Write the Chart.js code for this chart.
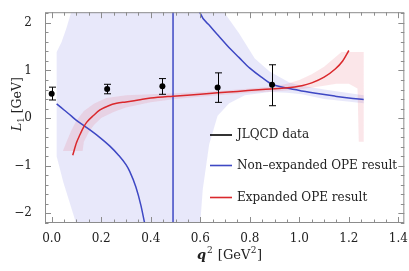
<!DOCTYPE html>
<html lang="en">
<head>
<meta charset="UTF-8">
<title>L1 vs q2</title>
<script src="https://cdn.jsdelivr.net/npm/chart.js"></script>
<style>
  body { margin: 0; background: #fff; }
  #wrap { width: 409px; height: 271px; }
</style>
</head>
<body>
<div id="wrap"><canvas id="graphique"></canvas></div>
<script>
// JLQCD lattice points (q^2, L1, lower / upper error)
const latQ  = [0.0, 0.224, 0.447, 0.67, 0.89];
const latL  = [0.51, 0.61, 0.67, 0.64, 0.70];
const latLo = [0.38, 0.51, 0.50, 0.33, 0.26];
const latHi = [0.65, 0.71, 0.83, 0.95, 1.12];

// non-expanded OPE, two branches around the pole
const poleQ = 0.49;
const nonExpLeftQ  = [0.02, 0.05, 0.08, 0.10, 0.13, 0.16, 0.195, 0.235, 0.27, 0.30, 0.315, 0.34, 0.36, 0.375, 0.385];
const nonExpLeftL  = [0.30, 0.17, 0.04, -0.05, -0.16, -0.27, -0.41, -0.59, -0.78, -0.98, -1.12, -1.45, -1.83, -2.20, -2.45];
const nonExpRightQ = [0.595, 0.60, 0.64, 0.677, 0.72, 0.757, 0.80, 0.85, 0.89, 0.95, 1.01, 1.08, 1.145, 1.20, 1.26];
const nonExpRightL = [2.30, 2.20, 1.93, 1.71, 1.46, 1.27, 1.05, 0.85, 0.71, 0.63, 0.57, 0.51, 0.46, 0.42, 0.39];

// non-expanded OPE uncertainty band (outline)
const bandBlueQ = [0.02, 0.02, 0.04, 0.06, 0.08, 0.08, 0.70, 0.70, 0.757, 0.82, 0.88, 0.96, 1.01, 1.10, 1.26,
                   1.26, 1.10, 1.01, 0.95, 0.88, 0.78, 0.717, 0.67, 0.636, 0.61, 0.60, 0.60, 0.098, 0.098, 0.047, 0.02];
const bandBlueL = [-0.80, 1.39, 1.60, 1.90, 2.25, 2.60, 2.60, 2.20, 1.78, 1.25, 0.98, 0.75, 0.68, 0.60, 0.48,
                   0.31, 0.40, 0.50, 0.53, 0.55, 0.48, 0.31, 0.05, -0.55, -1.50, -2.20, -2.60, -2.60, -2.20, -1.35, -0.80];

// expanded OPE
const expQ = [0.085, 0.10, 0.114, 0.13, 0.141, 0.17, 0.195, 0.23, 0.262, 0.30, 0.35, 0.40, 0.49, 0.60, 0.67, 0.75, 0.85, 0.94, 1.01, 1.05, 1.10, 1.145, 1.175, 1.20];
const expL = [-0.78, -0.52, -0.35, -0.18, -0.09, 0.06, 0.17, 0.26, 0.31, 0.34, 0.38, 0.42, 0.46, 0.50, 0.53, 0.56, 0.60, 0.63, 0.68, 0.74, 0.86, 1.03, 1.20, 1.42];

// expanded OPE uncertainty band (outline)
const bandRedQ = [0.045, 0.06, 0.08, 0.10, 0.13, 0.17, 0.22, 0.30, 0.40, 0.50, 0.60, 0.70, 0.80, 0.90, 0.95, 1.00, 1.05, 1.10, 1.15, 1.17, 1.26,
                  1.26, 1.24, 1.235, 1.20, 1.15, 1.10, 1.00, 0.90, 0.80, 0.70, 0.60, 0.50, 0.40, 0.30, 0.25, 0.20, 0.17, 0.15, 0.13, 0.125, 0.045];
const bandRedL = [-0.69, -0.50, -0.25, -0.05, 0.15, 0.30, 0.42, 0.48, 0.50, 0.52, 0.55, 0.58, 0.62, 0.67, 0.72, 0.80, 0.92, 1.08, 1.30, 1.39, 1.39,
                  -0.50, -0.50, 0.62, 0.72, 0.72, 0.68, 0.60, 0.56, 0.53, 0.49, 0.45, 0.40, 0.33, 0.22, 0.13, 0.00, -0.15, -0.30, -0.50, -0.69, -0.69];

const xTicks = [0.0, 0.2, 0.4, 0.6, 0.8, 1.0, 1.2, 1.4];
const yTicks = [-2, -1, 0, 1, 2];
const legendNames = ["JLQCD data", "Non\u2013expanded OPE result", "Expanded OPE result"];

const blue = "rgb(62,72,196)";
const red = "rgb(218,40,44)";
const serif = "'DejaVu Serif', serif";

const pts = (xs, ys) => xs.map((x, i) => ({ x: x, y: ys[i] }));

// frame with inward ticks, error bars, legend, axis titles
const decor = {
  id: "decor",
  afterDatasetsDraw(chart) {
    const ctx = chart.ctx;
    const xs = chart.scales.x, ys = chart.scales.y;

    // error bars
    ctx.save();
    ctx.strokeStyle = "#000";
    ctx.lineWidth = 1;
    latQ.forEach((q, i) => {
      const px = Math.round(xs.getPixelForValue(q)) + 0.5;
      const y1 = ys.getPixelForValue(latLo[i]);
      const y2 = ys.getPixelForValue(latHi[i]);
      ctx.beginPath();
      ctx.moveTo(px, y1); ctx.lineTo(px, y2);
      ctx.moveTo(px - 3.5, y1); ctx.lineTo(px + 3.5, y1);
      ctx.moveTo(px - 3.5, y2); ctx.lineTo(px + 3.5, y2);
      ctx.stroke();
    });
    ctx.restore();
  },
  afterDraw(chart) {
    const ctx = chart.ctx;
    const xs = chart.scales.x, ys = chart.scales.y;
    const a = chart.chartArea;
    ctx.save();
    ctx.strokeStyle = "#8c8c8c";
    ctx.lineWidth = 1;
    ctx.strokeRect(a.left + 0.5, a.top + 0.5, a.right - a.left - 1, a.bottom - a.top - 1);

    ctx.beginPath();
    for (let v = -0.05; v <= 1.45; v += 0.05) {
      const vv = Math.round(v * 100) / 100;
      if (vv < xs.min || vv > xs.max) continue;
      const major = Math.abs(vv * 5 - Math.round(vv * 5)) < 1e-6;
      const len = major ? 6 : 3.5;
      const px = Math.round(xs.getPixelForValue(vv)) + 0.5;
      ctx.moveTo(px, a.bottom); ctx.lineTo(px, a.bottom - len);
      ctx.moveTo(px, a.top); ctx.lineTo(px, a.top + len);
    }
    for (let v = -2.2; v <= 2.25; v += 0.2) {
      const vv = Math.round(v * 10) / 10;
      if (vv < ys.min || vv > ys.max) continue;
      const major = Math.abs(vv - Math.round(vv)) < 1e-6;
      const len = major ? 6 : 3.5;
      const py = Math.round(ys.getPixelForValue(vv)) + 0.5;
      ctx.moveTo(a.left, py); ctx.lineTo(a.left + len, py);
      ctx.moveTo(a.right, py); ctx.lineTo(a.right - len, py);
    }
    ctx.stroke();

    // legend
    const legColors = ["#000", blue, red];
    const legY = [135, 165.5, 197.5];
    ctx.font = "12px " + serif;
    ctx.textBaseline = "middle";
    ctx.fillStyle = "#222";
    legendNames.forEach((name, i) => {
      ctx.strokeStyle = legColors[i];
      ctx.lineWidth = 1.6;
      ctx.beginPath();
      ctx.moveTo(210, legY[i]); ctx.lineTo(232, legY[i]);
      ctx.stroke();
      ctx.fillText(name, 237, legY[i]);
    });

    // x title: q^2 [GeV^2]
    ctx.textBaseline = "alphabetic";
    ctx.fillStyle = "#222";
    let x = 197, y = 259;
    ctx.font = "italic bold 13px " + serif;
    ctx.fillText("q", x, y); x += ctx.measureText("q").width + 1;
    ctx.font = "9px " + serif;
    ctx.fillText("2", x, y - 6); x += ctx.measureText("2").width + 5;
    ctx.font = "13px " + serif;
    ctx.fillText("[GeV", x, y); x += ctx.measureText("[GeV").width + 0.5;
    ctx.font = "9px " + serif;
    ctx.fillText("2", x, y - 6); x += ctx.measureText("2").width + 0.5;
    ctx.font = "13px " + serif;
    ctx.fillText("]", x, y);

    // y title: L1 [GeV]
    ctx.translate(21, 131);
    ctx.rotate(-Math.PI / 2);
    x = 0;
    ctx.font = "italic 12.5px " + serif;
    ctx.fillText("L", x, 0); x += ctx.measureText("L").width;
    ctx.font = "8.5px " + serif;
    ctx.fillText("1", x, 3); x += ctx.measureText("1").width + 4;
    ctx.font = "12.5px " + serif;
    ctx.fillText("[GeV]", x, 0);
    ctx.restore();
  }
};

const lineStyle = { borderWidth: 1.5, pointRadius: 0, cubicInterpolationMode: "monotone" };

new Chart(document.getElementById("graphique"), {
  type: "line",
  data: {
    datasets: [
      { data: pts(latQ, latL), showLine: false, pointRadius: 3, pointBackgroundColor: "#000", pointBorderWidth: 0, order: 0 },
      { data: pts(expQ, expL), borderColor: red, ...lineStyle, order: 1 },
      { data: pts(nonExpLeftQ, nonExpLeftL), borderColor: blue, ...lineStyle, order: 2 },
      { data: pts(nonExpRightQ, nonExpRightL), borderColor: blue, ...lineStyle, order: 2 },
      { data: [{ x: poleQ, y: -3 }, { x: poleQ, y: 3 }], borderColor: blue, borderWidth: 1.5, pointRadius: 0, order: 2 },
      { data: pts(bandRedQ, bandRedL), borderWidth: 0, pointRadius: 0, fill: "shape", backgroundColor: "rgba(225,80,100,0.14)", order: 5 },
      { data: pts(bandBlueQ, bandBlueL), borderWidth: 0, pointRadius: 0, fill: "shape", backgroundColor: "rgba(110,110,225,0.16)", order: 6 }
    ]
  },
  options: {
    responsive: true,
    maintainAspectRatio: false,
    animation: false,
    layout: { padding: { top: 1, right: 3, left: 0, bottom: 0 } },
    plugins: { legend: { display: false }, tooltip: { enabled: false } },
    scales: {
      x: {
        type: "linear", min: -0.027, max: 1.424,
        grid: { display: false }, border: { display: false },
        afterFit: s => { s.height = 48; },
        afterBuildTicks: s => { s.ticks = xTicks.map(v => ({ value: v })); },
        ticks: { padding: 1, color: "#222", font: { family: serif, size: 12 }, callback: v => v.toFixed(1), maxRotation: 0 }
      },
      y: {
        type: "linear", min: -2.205, max: 2.225,
        grid: { display: false }, border: { display: false },
        afterFit: s => { s.width = 45; },
        afterBuildTicks: s => { s.ticks = yTicks.map(v => ({ value: v })); },
        ticks: { padding: 5, color: "#222", font: { family: serif, size: 12 }, callback: v => (v < 0 ? "\u2212" + (-v) : "" + v) }
      }
    }
  },
  plugins: [decor]
});
</script>
</body>
</html>
